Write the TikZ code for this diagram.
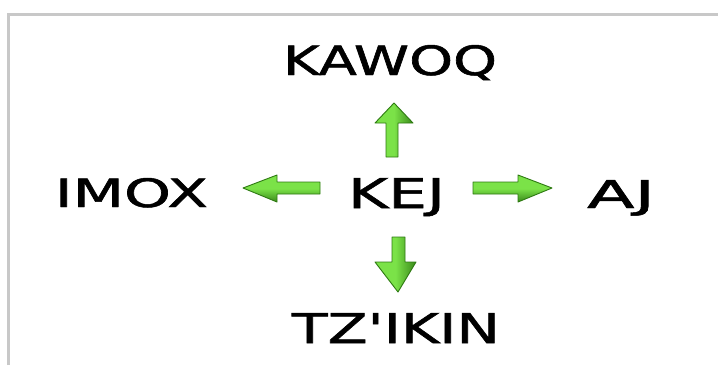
\documentclass[tikz,border=0pt]{standalone}
\usepackage{fontspec}
\setmainfont{DejaVu Sans}[FakeBold=1.2]
\usepackage{graphicx}
\definecolor{framegray}{HTML}{C8C8C8}
\definecolor{arrlight}{HTML}{7BE248}
\definecolor{arrdark}{HTML}{2E7A12}
\tikzset{
  lbl/.style={anchor=base west, inner sep=0pt, outer sep=0pt, text=black},
  greenarrow/.style={draw=arrdark, line width=0.9pt, line join=round},
  varrow/.style={greenarrow, left color=arrlight, right color=arrdark!85!arrlight, middle color=arrlight},
  harrow/.style={greenarrow, top color=arrlight, bottom color=arrdark!85!arrlight, middle color=arrlight},
}
\begin{document}
\begin{tikzpicture}[x=1pt,y=-1pt]
\useasboundingbox (0,0) rectangle (718,365);
\fill[white] (0,0) rectangle (718,365);
% frame
\draw[framegray, line width=3pt] (8,365) -- (8,14.5) -- (718,14.5);
% labels
\node[lbl] (kawoq) at (283,75) {\resizebox{214pt}{30pt}{KAWOQ}};
\node[lbl] (imox) at (55,207) {\resizebox{153pt}{29pt}{IMOX}};
\node[lbl] (kej) at (348,208) {\resizebox{97pt}{30pt}{KEJ}};
\node[lbl] (aj) at (587,208) {\resizebox{68pt}{28pt}{AJ}};
\node[lbl] (tzikin) at (292,343) {\resizebox{208pt}{30pt}{TZ\textquotesingle IKIN}};
% arrows
% up
\path[varrow] (386,157) -- (386,123) -- (375,123) -- (394,103) -- (413,123) -- (398,123) -- (398,157) -- cycle;
% down
\path[varrow] (392,237) -- (392,262) -- (375,262) -- (398,292) -- (416,262) -- (405,262) -- (405,237) -- cycle;
% left
\path[harrow] (320,182) -- (277,182) -- (277,175) -- (243,188) -- (277,202) -- (277,194) -- (320,194) -- cycle;
% right
\path[harrow] (473,182) -- (518,182) -- (518,175) -- (552,188) -- (518,202) -- (518,194) -- (473,194) -- cycle;
\end{tikzpicture}
\end{document}
